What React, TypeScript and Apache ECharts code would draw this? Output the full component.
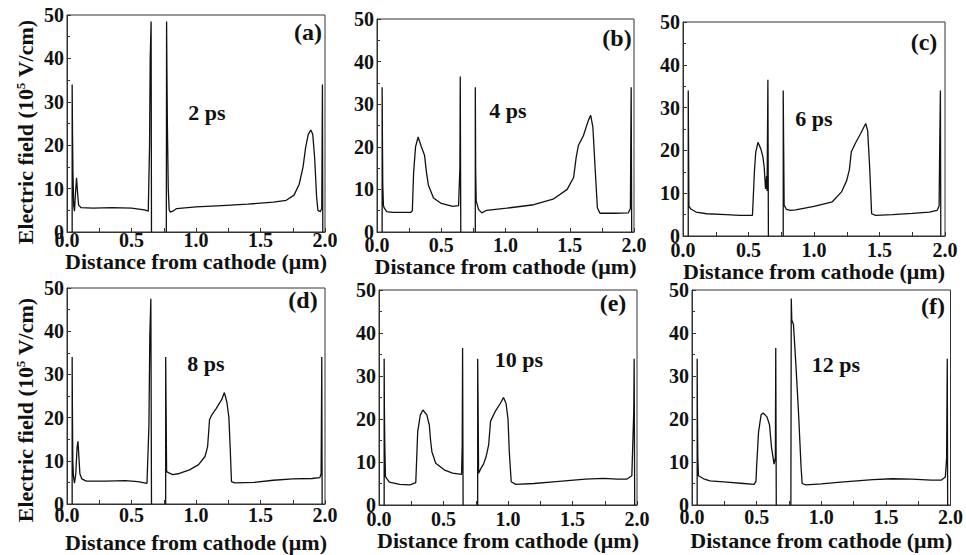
import React, { useEffect, useRef } from "react";
import * as echarts from "echarts";

// ---- DATA ----
const panelTags = ["(a)", "(b)", "(c)", "(d)", "(e)", "(f)"];
const timeLabels = ["2 ps", "4 ps", "6 ps", "8 ps", "10 ps", "12 ps"];
const xTicks = [0, 0.5, 1.0, 1.5, 2.0];
const yTicks = [0, 10, 20, 30, 40, 50];
const xTitle = "Distance from cathode (μm)";
const yTitle = "Electric field (10{sup|5} V/cm)";

const fieldA: (number | null)[][] = [
  [0.04, 0], [0.04, 34], [0.043, 22], [0.046, 14], [0.052, 6], [0.058, 4.8], [0.066, 9], [0.074, 12.5],
  [0.082, 9], [0.09, 6.2], [0.11, 5.6], [0.2, 5.5], [0.35, 5.6], [0.5, 5.5], [0.6, 5.1], [0.63, 4.8],
  [0.64, 20], [0.645, 40], [0.652, 48.5], [0.655, 0], [0.71, null],
  [0.77, 0], [0.772, 48.5], [0.775, 36], [0.778, 25], [0.785, 10], [0.792, 5.2], [0.8, 4.6], [0.82, 4.8],
  [0.85, 5.4], [1.0, 5.8], [1.2, 6.1], [1.4, 6.4], [1.6, 6.9], [1.7, 7.3], [1.76, 8.5], [1.8, 11],
  [1.83, 15], [1.85, 19.5], [1.87, 22.5], [1.89, 23.5], [1.905, 22.5], [1.92, 17], [1.935, 8], [1.945, 5],
  [1.965, 4.7], [1.975, 5.5], [1.98, 34], [1.983, 0],
];

const fieldB: (number | null)[][] = [
  [0.04, 0], [0.04, 34], [0.042, 23], [0.045, 11], [0.05, 6.3], [0.055, 5.7], [0.075, 4.8], [0.12, 4.6],
  [0.2, 4.6], [0.26, 4.6], [0.275, 5], [0.285, 14], [0.3, 20], [0.32, 22.3], [0.345, 20], [0.37, 18],
  [0.385, 14], [0.4, 11], [0.44, 8], [0.5, 6.7], [0.59, 6], [0.635, 6.2], [0.645, 15], [0.648, 36.5],
  [0.652, 0], [0.71, null],
  [0.765, 0], [0.765, 34], [0.768, 14], [0.772, 7.3], [0.79, 5.3], [0.815, 4.5], [0.853, 5.1], [1.01, 5.6],
  [1.22, 6.4], [1.37, 7.7], [1.48, 10], [1.53, 12.8], [1.55, 17.5], [1.567, 20.3], [1.606, 22.6],
  [1.645, 26.2], [1.663, 27.4], [1.68, 24.6], [1.7, 13.6], [1.715, 5.7], [1.735, 4.4], [1.85, 4.4],
  [1.956, 4.5], [1.972, 5.5], [1.978, 34], [1.982, 0],
];

const fieldC: (number | null)[][] = [
  [0.04, 0], [0.04, 34], [0.042, 23], [0.045, 7], [0.06, 6.3], [0.1, 5.6], [0.18, 5.2], [0.33, 5],
  [0.43, 4.8], [0.53, 4.8], [0.535, 8], [0.545, 15], [0.555, 19.5], [0.572, 21.9], [0.595, 20.3],
  [0.61, 18.5], [0.62, 16], [0.63, 11], [0.638, 14], [0.642, 10.5], [0.648, 36.5], [0.652, 0], [0.71, null],
  [0.765, 0], [0.765, 34], [0.768, 22], [0.772, 7.2], [0.79, 6.2], [0.82, 6], [0.86, 6.1], [1.0, 6.9],
  [1.14, 8], [1.21, 10.3], [1.25, 13], [1.27, 15.5], [1.285, 19.7], [1.315, 21.6], [1.355, 23.9],
  [1.395, 26.3], [1.41, 24.5], [1.425, 16], [1.44, 5.2], [1.47, 4.8], [1.6, 5], [1.75, 5.3], [1.88, 5.6],
  [1.94, 6], [1.955, 7], [1.96, 22], [1.965, 34], [1.968, 0],
];

const fieldD: (number | null)[][] = [
  [0.04, 0], [0.04, 34], [0.042, 22], [0.045, 10], [0.05, 6.5], [0.058, 4.8], [0.068, 7], [0.078, 13],
  [0.085, 14.5], [0.092, 11], [0.1, 7], [0.115, 5.8], [0.15, 5.3], [0.3, 5.3], [0.45, 5.4], [0.55, 5.2],
  [0.62, 4.8], [0.635, 18], [0.642, 39], [0.65, 47.5], [0.655, 0], [0.71, null],
  [0.765, 0], [0.765, 34], [0.768, 23], [0.772, 7.5], [0.79, 7.2], [0.82, 6.8], [0.86, 7], [0.95, 7.9],
  [1.02, 9.1], [1.07, 11], [1.09, 13.3], [1.105, 19.5], [1.12, 20.5], [1.155, 22], [1.2, 24.2],
  [1.22, 25.8], [1.24, 23.5], [1.255, 20], [1.265, 13], [1.275, 5.2], [1.3, 4.9], [1.45, 5], [1.6, 5.5],
  [1.75, 5.8], [1.9, 5.9], [1.96, 6.1], [1.97, 7], [1.975, 34], [1.978, 0],
];

const fieldE: (number | null)[][] = [
  [0.04, 0], [0.04, 34], [0.042, 22], [0.045, 14], [0.05, 6.6], [0.08, 5.3], [0.16, 4.8], [0.24, 4.7],
  [0.285, 5.2], [0.29, 9], [0.3, 17], [0.32, 20.9], [0.34, 22.1], [0.37, 21], [0.39, 18.6], [0.4, 15],
  [0.41, 12.4], [0.44, 9.7], [0.51, 8.1], [0.57, 7.4], [0.64, 7.1], [0.645, 14], [0.648, 36.5],
  [0.652, 0], [0.71, null],
  [0.765, 0], [0.765, 34], [0.768, 24], [0.772, 7.4], [0.79, 8.5], [0.81, 9.5], [0.83, 11.2], [0.85, 14],
  [0.865, 19.5], [0.9, 21.7], [0.94, 23.6], [0.965, 25], [0.985, 23.6], [1.0, 20], [1.01, 12.4],
  [1.025, 5.4], [1.06, 4.8], [1.2, 5], [1.35, 5.4], [1.6, 6], [1.74, 6.2], [1.85, 6], [1.92, 6],
  [1.96, 6.8], [1.975, 22], [1.978, 34], [1.982, 0],
];

const fieldF: (number | null)[][] = [
  [0.04, 0], [0.04, 34], [0.042, 21.5], [0.045, 11], [0.05, 6.8], [0.09, 6.1], [0.14, 5.6], [0.27, 5.3],
  [0.4, 5], [0.48, 4.8], [0.495, 5.5], [0.5, 9], [0.515, 17], [0.535, 21], [0.55, 21.4], [0.58, 20.5],
  [0.6, 18.6], [0.615, 13.4], [0.635, 9.5], [0.645, 11], [0.648, 36.5], [0.652, 0], [0.71, null],
  [0.765, 0], [0.768, 48], [0.772, 43], [0.785, 42], [0.805, 32], [0.825, 21], [0.843, 9.3], [0.852, 5],
  [0.88, 4.7], [1.0, 4.9], [1.15, 5.3], [1.4, 5.9], [1.55, 6.1], [1.7, 6], [1.85, 5.8], [1.93, 5.8],
  [1.96, 6.5], [1.97, 11], [1.975, 34], [1.978, 0],
];

const fields = [fieldA, fieldB, fieldC, fieldD, fieldE, fieldF];

// ---- LAYOUT ----
const FONT = "Liberation Serif";
const grids = [
  { left: 67, top: 15, width: 258, height: 217 },
  { left: 377, top: 19, width: 257, height: 213 },
  { left: 683, top: 22, width: 262, height: 214 },
  { left: 67, top: 288, width: 258, height: 216 },
  { left: 379, top: 290, width: 258, height: 215 },
  { left: 692, top: 290, width: 260, height: 215 },
];
const xLabelMargin = [-2, 3, 4, 1, 4, 2];
const xNameGap = [1, 22, 23, 27, 24, 24];
const tagPos = [[308, 32], [617, 38], [924, 42], [303, 300], [613, 303], [933, 306]];
const timePos = [[207, 112], [508, 110], [814, 118], [206, 363], [519, 359], [836, 364]];
const yTitlePos = [[25, 132], [25, 410]];

export default function App() {
  const ref = useRef<HTMLDivElement>(null);
  useEffect(() => {
    if (!ref.current) return;
    const chart = echarts.init(ref.current, undefined, { renderer: "svg" });
    const ink = "#111";
    const textBase = { fontFamily: FONT, fontWeight: "bold" as const, color: ink };
    const option: any = {
      animation: false,
      backgroundColor: "#fff",
      textStyle: { fontFamily: FONT },
      grid: grids.map((g) => ({ ...g, show: true, borderColor: "#333", borderWidth: 1, containLabel: false })),
      xAxis: grids.map((_, i) => ({
        type: "value",
        gridIndex: i,
        min: xTicks[0],
        max: xTicks[xTicks.length - 1],
        interval: xTicks[1] - xTicks[0],
        axisLine: { show: true, onZero: false, lineStyle: { color: "#333", width: 1 } },
        axisTick: { show: true, inside: true, length: 4, lineStyle: { color: "#333" } },
        minorTick: { show: true, splitNumber: 2, length: 4, lineStyle: { color: "#333" } },
        splitLine: { show: false },
        axisLabel: { ...textBase, fontSize: 20, margin: xLabelMargin[i], formatter: (v: number) => v.toFixed(1) },
        name: xTitle,
        nameLocation: "middle",
        nameGap: xNameGap[i],
        nameTextStyle: { ...textBase, fontSize: 22 },
      })),
      yAxis: grids.map((_, i) => ({
        type: "value",
        gridIndex: i,
        min: yTicks[0],
        max: yTicks[yTicks.length - 1],
        interval: yTicks[1] - yTicks[0],
        axisLine: { show: true, onZero: false, lineStyle: { color: "#333", width: 1 } },
        axisTick: { show: true, inside: true, length: 4, lineStyle: { color: "#333" } },
        minorTick: { show: true, splitNumber: 2, length: 3, lineStyle: { color: "#333" } },
        splitLine: { show: false },
        axisLabel: { ...textBase, fontSize: 20, margin: 3 },
      })),
      series: fields.map((d, i) => ({
        type: "line",
        xAxisIndex: i,
        yAxisIndex: i,
        data: d,
        symbol: "none",
        showSymbol: false,
        connectNulls: false,
        lineStyle: { color: ink, width: 1.3 },
      })),
      graphic: [
        ...panelTags.map((t, i) => ({
          type: "text",
          x: tagPos[i][0],
          y: tagPos[i][1],
          style: { text: t, fill: ink, fontFamily: FONT, fontWeight: "bold", fontSize: 24, align: "center", verticalAlign: "middle" },
        })),
        ...timeLabels.map((t, i) => ({
          type: "text",
          x: timePos[i][0],
          y: timePos[i][1],
          style: { text: t, fill: ink, fontFamily: FONT, fontWeight: "bold", fontSize: 22, align: "center", verticalAlign: "middle" },
        })),
        ...yTitlePos.map((p) => ({
          type: "text",
          x: p[0],
          y: p[1],
          rotation: Math.PI / 2,
          style: {
            text: yTitle,
            fill: ink,
            fontFamily: FONT,
            fontWeight: "bold",
            fontSize: 22,
            align: "center",
            verticalAlign: "middle",
            rich: {
              sup: { fontFamily: FONT, fontWeight: "bold", fontSize: 13, fill: ink, verticalAlign: "top" },
            },
          },
        })),
      ],
    };
    chart.setOption(option);
    return () => chart.dispose();
  }, []);
  return <div ref={ref} style={{ position: "fixed", left: 0, top: 0, width: 966, height: 555 }} />;
}
